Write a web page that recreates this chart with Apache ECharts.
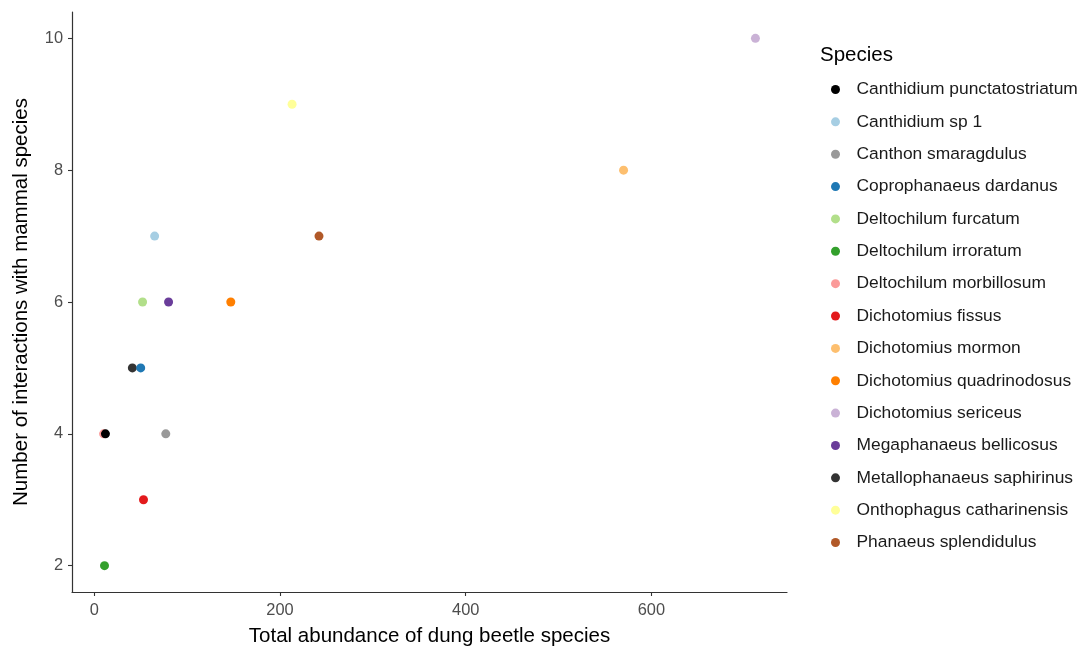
<!DOCTYPE html>
<html>
<head>
<meta charset="utf-8">
<script src="https://cdn.jsdelivr.net/npm/echarts@6/dist/echarts.min.js"></script>
<style>
  html, body { margin: 0; padding: 0; background: #ffffff; }
  #chart { width: 1084px; height: 653px; }
</style>
</head>
<body>
<div id="chart"></div>
<script>
// Dung beetle species: total abundance vs. number of interactions with mammals
const species = [
  'Canthidium punctatostriatum', 'Canthidium sp 1', 'Canthon smaragdulus',
  'Coprophanaeus dardanus', 'Deltochilum furcatum', 'Deltochilum irroratum',
  'Deltochilum morbillosum', 'Dichotomius fissus', 'Dichotomius mormon',
  'Dichotomius quadrinodosus', 'Dichotomius sericeus', 'Megaphanaeus bellicosus',
  'Metallophanaeus saphirinus', 'Onthophagus catharinensis', 'Phanaeus splendidulus'
];
const abundance    = [12, 65, 77, 50, 52, 11, 10, 53, 570, 147, 712, 80, 41, 213, 242];
const interactions = [4, 7, 4, 5, 6, 2, 4, 3, 8, 6, 10, 6, 5, 9, 7];
const colors = [
  '#000000', '#A6CEE3', '#999999', '#1F78B4', '#B2DF8A', '#33A02C',
  '#FB9A99', '#E31A1C', '#FDBF6F', '#FF7F00', '#CAB2D6', '#6A3D9A',
  '#333333', '#FFFF99', '#B15928'
];
// points drawn above their overlapping neighbours
const onTop = ['Canthidium punctatostriatum', 'Coprophanaeus dardanus'];

const xTicks = [0, 200, 400, 600];
const yTicks = [2, 4, 6, 8, 10];

const chart = echarts.init(document.getElementById('chart'), null, { renderer: 'canvas' });

const series = species.map((name, i) => ({
  name: name,
  type: 'scatter',
  data: [[abundance[i], interactions[i]]],
  symbol: 'circle',
  symbolSize: 9,
  z: onTop.includes(name) ? 4 : 2,
  itemStyle: { color: colors[i], opacity: 1 },
  emphasis: { disabled: true }
}));

const font = 'Liberation Sans, Arial, sans-serif';
const titleSize = 20.5;
const tickSize = 16.4;
const legendSize = 17.4;

chart.setOption({
  backgroundColor: '#ffffff',
  animation: false,
  color: colors,
  title: {
    text: 'Species',
    left: 820,
    top: 45,
    padding: 0,
    textStyle: { fontFamily: font, fontSize: titleSize, fontWeight: 'normal', color: '#000000' }
  },
  legend: {
    orient: 'vertical',
    left: 831,
    top: 79,
    padding: 0,
    data: species,
    icon: 'circle',
    itemWidth: 20,
    itemHeight: 9,
    itemGap: 11.36,
    selectedMode: false,
    textStyle: {
      fontFamily: font,
      fontSize: legendSize,
      color: '#1a1a1a',
      lineHeight: 21,
      padding: [0, 0, 0, 6]
    }
  },
  grid: { left: 72, right: 297, top: 12, bottom: 61, containLabel: false, outerBoundsMode: 'none' },
  xAxis: {
    type: 'value',
    min: -24,
    max: 746,
    name: 'Total abundance of dung beetle species',
    nameLocation: 'middle',
    nameGap: 34,
    nameTextStyle: { fontFamily: font, fontSize: titleSize, color: '#000000' },
    axisLine: { show: true, onZero: false, lineStyle: { color: '#333333', width: 1.2 } },
    axisTick: { show: true, length: 4, customValues: xTicks, lineStyle: { color: '#333333', width: 1.1 } },
    axisLabel: { customValues: xTicks, margin: 10, fontFamily: font, fontSize: tickSize, color: '#4D4D4D' },
    splitLine: { show: false }
  },
  yAxis: {
    type: 'value',
    min: 1.6,
    max: 10.4,
    name: 'Number of interactions with mammal species',
    nameLocation: 'middle',
    nameGap: 40,
    nameTextStyle: { fontFamily: font, fontSize: titleSize, color: '#000000' },
    axisLine: { show: true, onZero: false, lineStyle: { color: '#333333', width: 1.2 } },
    axisTick: { show: true, length: 4, customValues: yTicks, lineStyle: { color: '#333333', width: 1.1 } },
    axisLabel: { customValues: yTicks, margin: 9, fontFamily: font, fontSize: tickSize, color: '#4D4D4D' },
    splitLine: { show: false }
  },
  series: series
});
</script>
</body>
</html>
